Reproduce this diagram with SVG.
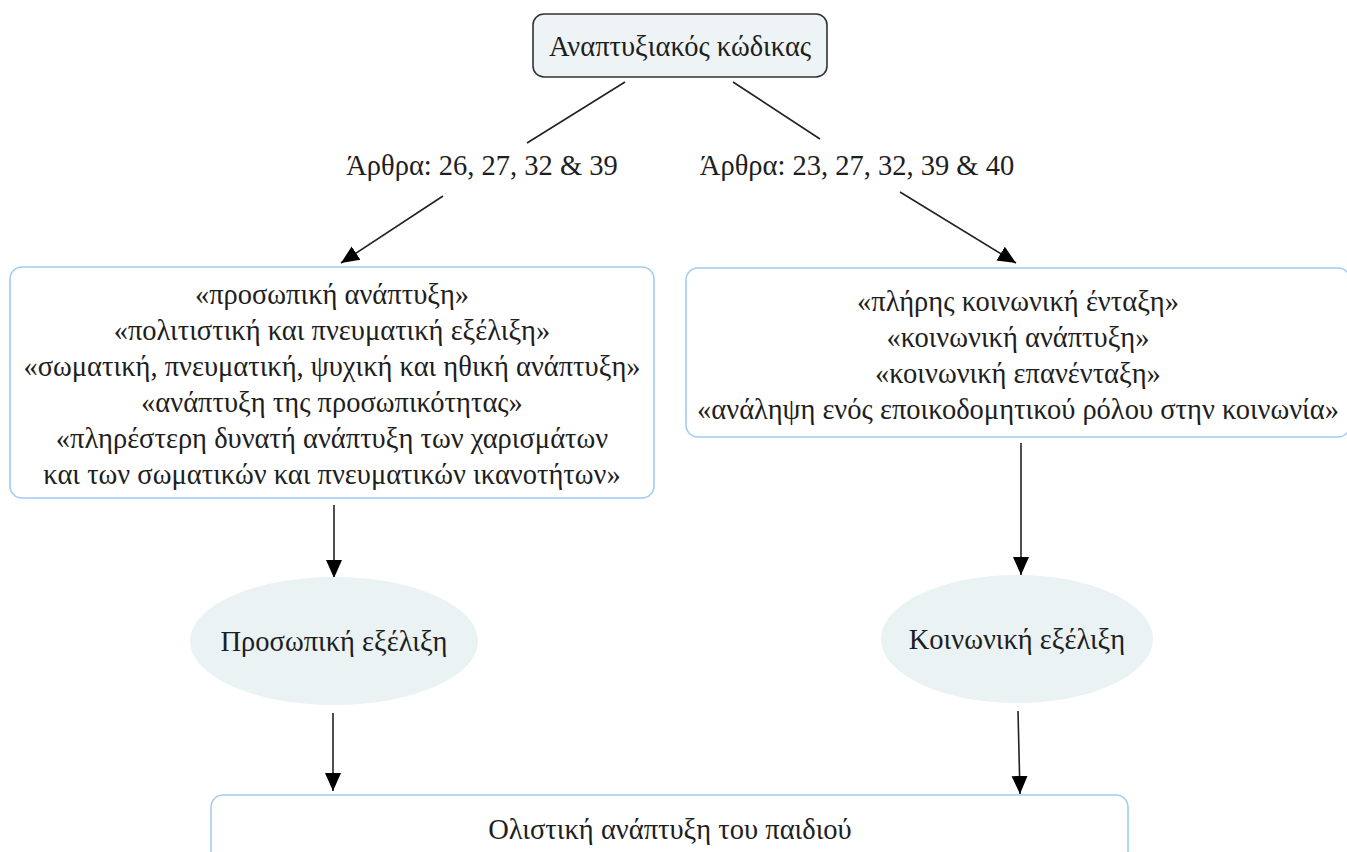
<svg xmlns="http://www.w3.org/2000/svg" width="1347" height="852" viewBox="0 0 1347 852">
<defs>
<style>
text{font-family:"Liberation Serif","Times New Roman",serif;fill:#1e1e1e;text-anchor:middle}
.t{font-size:28.5px}
.lbl{font-size:28.5px}
.line{stroke:#222;stroke-width:1.6;fill:none}
.box{fill:#fff;stroke:#a3cbf4;stroke-width:1.6}
.ell{fill:#ebf2f4;stroke:none}
</style>
<marker id="ah" markerUnits="userSpaceOnUse" markerWidth="20" markerHeight="20" viewBox="0 0 20 20" refX="18" refY="10" orient="auto">
<path d="M0,2 L18,10 L0,18 Z" fill="#000"/>
</marker>
</defs>
<rect width="1347" height="852" fill="#fff"/>
<g id="connectors">
<line class="line" x1="625" y1="82" x2="527" y2="143"/>
<line class="line" x1="733" y1="82" x2="820" y2="139"/>
<line class="line" x1="443" y1="196" x2="341" y2="263" marker-end="url(#ah)"/>
<line class="line" x1="900" y1="192" x2="1016" y2="263" marker-end="url(#ah)"/>
<line class="line" x1="334" y1="505" x2="334" y2="578" marker-end="url(#ah)"/>
<line class="line" x1="1021" y1="443" x2="1021" y2="575" marker-end="url(#ah)"/>
<line class="line" x1="333" y1="713" x2="333" y2="791" marker-end="url(#ah)"/>
<line class="line" x1="1018" y1="711" x2="1020" y2="794" marker-end="url(#ah)"/>
<text class="lbl" x="482" y="175">Άρθρα: 26, 27, 32 &amp; 39</text>
<text class="lbl" x="857" y="175">Άρθρα: 23, 27, 32, 39 &amp; 40</text>
</g>
<g id="root">
<rect x="533" y="14" width="294" height="63" rx="11" fill="#eef4f6" stroke="#333" stroke-width="1.6"/>
<text class="t" x="680" y="56">Αναπτυξιακός κώδικας</text>
</g>
<g id="personal-box">
<rect class="box" x="10" y="267" width="644" height="231" rx="12"/>
<text class="t" x="332" y="304">«προσωπική ανάπτυξη»</text>
<text class="t" x="332" y="340">«πολιτιστική και πνευματική εξέλιξη»</text>
<text class="t" x="332" y="376">«σωματική, πνευματική, ψυχική και ηθική ανάπτυξη»</text>
<text class="t" x="332" y="412">«ανάπτυξη της προσωπικότητας»</text>
<text class="t" x="332" y="448">«πληρέστερη δυνατή ανάπτυξη των χαρισμάτων</text>
<text class="t" x="332" y="484">και των σωματικών και πνευματικών ικανοτήτων»</text>
</g>
<g id="social-box">
<rect class="box" x="686" y="268" width="664" height="169" rx="12"/>
<text class="t" x="1018" y="311">«πλήρης κοινωνική ένταξη»</text>
<text class="t" x="1018" y="347">«κοινωνική ανάπτυξη»</text>
<text class="t" x="1018" y="383">«κοινωνική επανένταξη»</text>
<text class="t" x="1018" y="419">«ανάληψη ενός εποικοδομητικού ρόλου στην κοινωνία»</text>
</g>
<g id="personal-ellipse">
<ellipse class="ell" cx="334" cy="641" rx="144" ry="64"/>
<text class="t" x="334" y="651">Προσωπική εξέλιξη</text>
</g>
<g id="social-ellipse">
<ellipse class="ell" cx="1017" cy="639" rx="136" ry="64"/>
<text class="t" x="1017" y="649">Κοινωνική εξέλιξη</text>
</g>
<g id="holistic">
<rect class="box" x="211" y="795" width="917" height="80" rx="12"/>
<text class="t" x="670" y="839">Ολιστική ανάπτυξη του παιδιού</text>
</g>
</svg>
